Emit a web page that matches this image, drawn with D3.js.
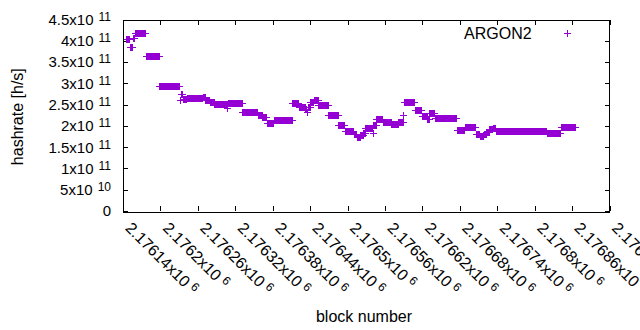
<!DOCTYPE html>
<html>
<head>
<meta charset="utf-8">
<script src="https://cdn.jsdelivr.net/npm/d3@7"></script>
<style>
  html, body { margin: 0; padding: 0; background: #fff; }
  svg { display: block; font-family: "Liberation Sans", Arial, sans-serif; }
</style>
</head>
<body>
<svg id="chart" width="640" height="330"></svg>
<script>
// ---- data (runs of consecutive blocks sharing the same hashrate) ----
const runStart = [2176145,2176152,2176157,2176160,2176178,2176199,2176232,2176233,2176237,2176243,
  2176269,2176273,2176280,2176287,2176307,2176308,2176309,2176332,2176357,2176364,
  2176371,2176383,2176412,2176423,2176433,2176436,2176437,2176441,2176447,2176454,
  2176470,2176486,2176496,2176511,2176516,2176521,2176526,2176529,2176541,2176542,
  2176547,2176557,2176571,2176582,2176590,2176591,2176609,2176620,2176629,2176632,
  2176641,2176676,2176689,2176706,2176713,2176719,2176723,2176728,2176734,2176739,
  2176820,2176843];
const runEnd = [2176151,2176156,2176158,2176176,2176198,2176231,2176232,2176236,2176242,2176268,
  2176272,2176279,2176286,2176306,2176307,2176308,2176331,2176356,2176363,2176370,
  2176382,2176411,2176422,2176432,2176435,2176436,2176440,2176446,2176453,2176469,
  2176485,2176495,2176510,2176515,2176520,2176525,2176528,2176540,2176541,2176546,
  2176556,2176570,2176581,2176589,2176590,2176608,2176619,2176628,2176631,2176640,
  2176675,2176688,2176705,2176712,2176718,2176722,2176727,2176733,2176738,2176819,
  2176842,2176865];
const runHashrate = [4.03e11,3.84e11,4.05e11,4.18e11,3.63e11,2.93e11,2.59e11,2.74e11,2.62e11,2.65e11,
  2.67e11,2.59e11,2.54e11,2.50e11,2.40e11,2.50e11,2.53e11,2.32e11,2.25e11,2.20e11,
  2.06e11,2.13e11,2.52e11,2.43e11,2.39e11,2.31e11,2.43e11,2.55e11,2.59e11,2.49e11,
  2.25e11,2.02e11,1.87e11,1.79e11,1.73e11,1.78e11,1.83e11,1.93e11,1.81e11,2.02e11,
  2.15e11,2.09e11,2.03e11,2.07e11,2.25e11,2.55e11,2.36e11,2.21e11,2.14e11,2.29e11,
  2.18e11,1.89e11,1.96e11,1.80e11,1.74e11,1.79e11,1.85e11,1.91e11,1.95e11,1.87e11,
  1.81e11,1.96e11];

const seriesName = "ARGON2";
const xTickValues = [2176140,2176200,2176260,2176320,2176380,2176440,2176500,2176560,2176620,2176680,2176740,2176800,2176860,2176920];
const xTickLabels = ["2.17614","2.1762","2.17626","2.17632","2.17638","2.17644","2.1765","2.17656","2.17662","2.17668","2.17674","2.1768","2.17686","2.17692"];
const xTickExp = "6";
const yTickValues = [0,5e10,1e11,1.5e11,2e11,2.5e11,3e11,3.5e11,4e11,4.5e11];
const yTickMantissa = ["0","5","1","1.5","2","2.5","3","3.5","4","4.5"];
const yTickExp = ["","10","11","11","11","11","11","11","11","11"];
const xTitle = "block number";
const yTitle = "hashrate [h/s]";

// ---- points: one per block ----
const points = [];
runStart.forEach((s, i) => {
  for (let b = s; b <= runEnd[i]; b++) points.push({ block: b, value: runHashrate[i] });
});

const color = "#9400d3";
const svg = d3.select("#chart");
const L = 123, R = 609.5, T = 19.5, B = 211;
const x = d3.scaleLinear().domain([2176140, 2176920]).range([L, R]);
const y = d3.scaleLinear().domain([0, 4.5e11]).range([B, T]);

const plus = "M-3.5,0H3.5M0,-3.5V3.5";

// ticks (mirrored)
const tickG = svg.append("g").attr("stroke", "#000").attr("stroke-width", 1).attr("shape-rendering", "crispEdges");
yTickValues.forEach(v => {
  const yy = Math.round(y(v)) + 0.5;
  tickG.append("line").attr("x1", L).attr("x2", L + 5).attr("y1", yy).attr("y2", yy);
  tickG.append("line").attr("x1", R - 5).attr("x2", R).attr("y1", yy).attr("y2", yy);
});
xTickValues.forEach(v => {
  const xx = Math.round(x(v)) + 0.5;
  tickG.append("line").attr("x1", xx).attr("x2", xx).attr("y1", B).attr("y2", B - 5);
  tickG.append("line").attr("x1", xx).attr("x2", xx).attr("y1", T).attr("y2", T + 5);
});

// points
svg.append("g")
  .attr("stroke", color).attr("stroke-width", 1).attr("fill", "none")
  .attr("shape-rendering", "crispEdges")
  .selectAll("path").data(points).join("path")
  .attr("transform", d => `translate(${x(d.block)},${y(d.value)})`)
  .attr("d", plus);

// frame
svg.append("rect")
  .attr("x", L + 0.5).attr("y", Math.round(T) + 0.5)
  .attr("width", Math.round(R - L) - 1).attr("height", Math.round(B - T))
  .attr("fill", "none").attr("stroke", "#000").attr("stroke-width", 1)
  .attr("shape-rendering", "crispEdges");

// y tick labels
yTickValues.forEach((v, i) => {
  const t = svg.append("text")
    .attr("x", 111).attr("y", y(v) + 5.4)
    .attr("text-anchor", "end").attr("font-size", 15).attr("fill", "#000");
  if (yTickExp[i]) {
    t.append("tspan").text(yTickMantissa[i] + "x10");
    t.append("tspan").attr("dx", 5).attr("dy", -4).attr("font-size", 12).text(yTickExp[i]);
  } else {
    t.append("tspan").text(yTickMantissa[i]);
  }
});

// x tick labels (rotated)
xTickValues.forEach((v, i) => {
  const t = svg.append("text")
    .attr("transform", `translate(${x(v) + 1.5},229) rotate(45)`)
    .attr("font-size", 16).attr("fill", "#000");
  t.append("tspan").text(xTickLabels[i] + "x10");
  t.append("tspan").attr("dx", 4).attr("dy", -5).attr("font-size", 12).text(xTickExp);
});

// axis titles
svg.append("text")
  .attr("transform", "translate(22.5,116.7) rotate(-90)")
  .attr("text-anchor", "middle").attr("font-size", 16).text(yTitle);
svg.append("text")
  .attr("x", 364).attr("y", 321.5)
  .attr("text-anchor", "middle").attr("font-size", 16).text(xTitle);

// legend
svg.append("text")
  .attr("x", 531.7).attr("y", 38.5)
  .attr("text-anchor", "end").attr("font-size", 16).text(seriesName);
svg.append("path")
  .attr("transform", "translate(567,33)")
  .attr("d", plus).attr("stroke", color).attr("fill", "none")
  .attr("shape-rendering", "crispEdges");
</script>
</body>
</html>
